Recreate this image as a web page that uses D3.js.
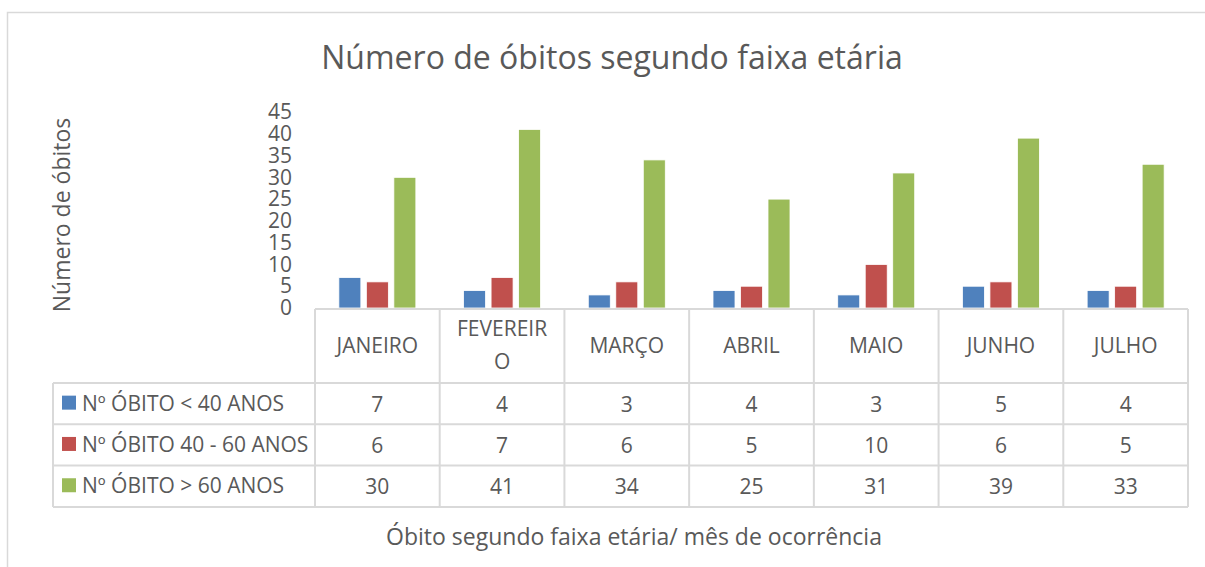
<!DOCTYPE html>
<html lang="pt">
<head>
<meta charset="utf-8">
<title>Número de óbitos segundo faixa etária</title>
<script src="https://d3js.org/d3.v7.min.js"></script>
<style>
  body { margin: 0; background: #fff; }
  text { font-family: "Open Sans", sans-serif; fill: #595959; }
</style>
</head>
<body>
<div id="chart"></div>
<script>
// data
var months = ["JANEIRO", "FEVEREIRO", "MARÇO", "ABRIL", "MAIO", "JUNHO", "JULHO"];
var monthLines = [["JANEIRO"], ["FEVEREIR", "O"], ["MARÇO"], ["ABRIL"], ["MAIO"], ["JUNHO"], ["JULHO"]];
var seriesNames = ["Nº ÓBITO < 40 ANOS", "Nº ÓBITO 40 - 60 ANOS", "Nº ÓBITO > 60 ANOS"];
var under40 = [7, 4, 3, 4, 3, 5, 4];
var from40to60 = [6, 7, 6, 5, 10, 6, 5];
var over60 = [30, 41, 34, 25, 31, 39, 33];
var yTicks = [0, 5, 10, 15, 20, 25, 30, 35, 40, 45];
var colors = ["#4F81BD", "#C0504D", "#9BBB59"];

var width = 1205, height = 567;
var plotLeft = 315, plotRight = 1188;
var plotTop = 112, base = 308;
var headerBottom = 383, rowH = 41.3, legendLeft = 53;

var series = [under40, from40to60, over60];

var svg = d3.select("#chart").append("svg")
  .attr("width", width)
  .attr("height", height);

// frame
svg.append("rect")
  .attr("x", 7.5).attr("y", 12.5)
  .attr("width", 1230).attr("height", 600)
  .attr("fill", "#fff")
  .attr("stroke", "#d9d9d9")
  .attr("stroke-width", 1.5);

// scales
var x0 = d3.scaleBand().domain(months).range([plotLeft, plotRight]).padding(0);
var x1 = d3.scaleBand().domain([0, 1, 2]).range([0, 77]).paddingInner(0.2);
var y = d3.scaleLinear().domain([0, 45]).range([base, plotTop]);

// y axis
var yAxis = d3.axisLeft(y).tickValues(yTicks).tickSize(0).tickPadding(0);
var gy = svg.append("g")
  .attr("transform", "translate(292,0)")
  .call(yAxis);
gy.select(".domain").remove();
gy.selectAll("text")
  .attr("fill", "#595959")
  .style("font-family", "Open Sans")
  .style("font-size", "21px");

// bars
var groups = svg.append("g").selectAll("g")
  .data(months)
  .join("g")
  .attr("transform", function(d) { return "translate(" + (x0(d) + (x0.bandwidth() - 77) / 2) + ",0)"; });

groups.selectAll("rect")
  .data(function(d, i) { return series.map(function(s, k) { return {k: k, v: s[i]}; }); })
  .join("rect")
  .attr("x", function(d) { return x1(d.k); })
  .attr("y", function(d) { return y(d.v); })
  .attr("width", x1.bandwidth())
  .attr("height", function(d) { return base - y(d.v); })
  .attr("fill", function(d) { return colors[d.k]; })
  .attr("stroke", "#fff")
  .attr("stroke-width", 0.8);

// data table
var grid = svg.append("g")
  .attr("stroke", "#d9d9d9")
  .attr("stroke-width", 2)
  .attr("fill", "none");

var tableBottom = headerBottom + rowH * 3;
grid.append("line").attr("x1", plotLeft).attr("x2", plotRight).attr("y1", base + 1).attr("y2", base + 1);
for (var r = 0; r <= 3; r++) {
  grid.append("line")
    .attr("x1", legendLeft).attr("x2", plotRight)
    .attr("y1", headerBottom + r * rowH).attr("y2", headerBottom + r * rowH);
}
grid.append("line").attr("x1", legendLeft).attr("x2", legendLeft).attr("y1", headerBottom).attr("y2", tableBottom);
months.forEach(function(m) {
  grid.append("line").attr("x1", x0(m)).attr("x2", x0(m)).attr("y1", base + 1).attr("y2", tableBottom);
});
grid.append("line").attr("x1", plotRight).attr("x2", plotRight).attr("y1", base + 1).attr("y2", tableBottom);

// month headers
months.forEach(function(m, i) {
  var lines = monthLines[i];
  var cy = (base + headerBottom) / 2;
  var t = svg.append("text")
    .attr("x", x0(m) + x0.bandwidth() / 2)
    .attr("text-anchor", "middle")
    .style("font-size", "21px");
  lines.forEach(function(l, j) {
    t.append("tspan")
      .attr("x", x0(m) + x0.bandwidth() / 2)
      .attr("y", cy + 7 + (j - (lines.length - 1) / 2) * 33)
      .text(l);
  });
});

// rows
series.forEach(function(s, k) {
  var cy = headerBottom + rowH * k + rowH / 2;
  svg.append("rect")
    .attr("x", 62).attr("y", cy - 8)
    .attr("width", 14).attr("height", 14)
    .attr("fill", colors[k]);
  svg.append("text")
    .attr("x", 82).attr("y", cy + 7)
    .style("font-size", "21px")
    .text(seriesNames[k]);
  s.forEach(function(v, i) {
    svg.append("text")
      .attr("x", x0(months[i]) + x0.bandwidth() / 2)
      .attr("y", cy + 8)
      .attr("text-anchor", "middle")
      .style("font-size", "21px")
      .text(v);
  });
});

// titles
svg.append("text")
  .attr("x", 612).attr("y", 69)
  .attr("text-anchor", "middle")
  .style("font-size", "32px")
  .text("Número de óbitos segundo faixa etária");

svg.append("text")
  .attr("transform", "translate(70,215) rotate(-90)")
  .attr("text-anchor", "middle")
  .style("font-size", "23px")
  .text("Número de óbitos");

svg.append("text")
  .attr("x", 634).attr("y", 545)
  .attr("text-anchor", "middle")
  .style("font-size", "23px")
  .text("Óbito segundo faixa etária/ mês de ocorrência");
</script>
</body>
</html>
